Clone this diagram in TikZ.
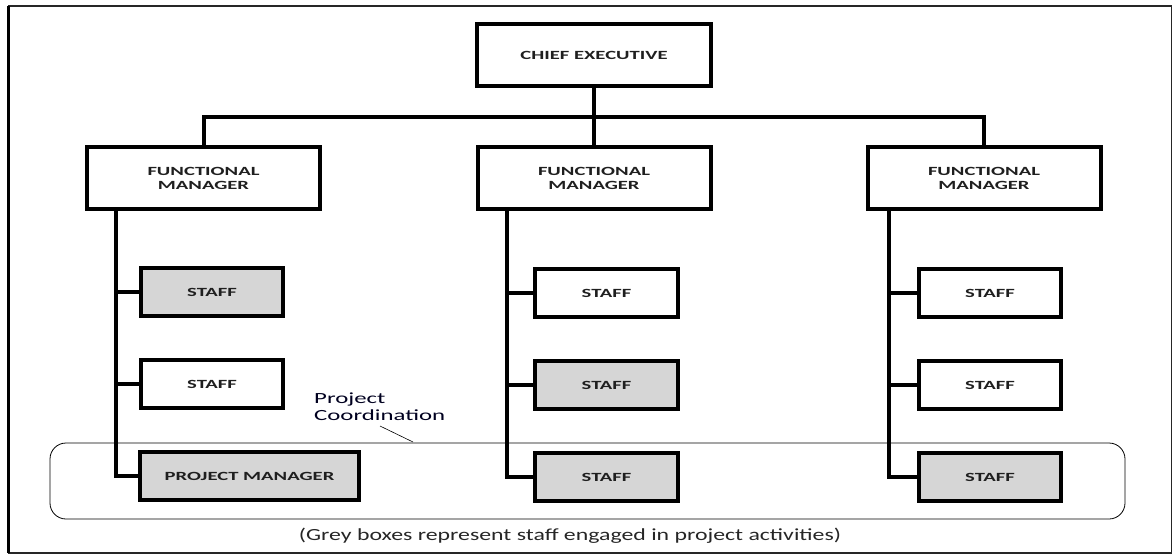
\documentclass[tikz,border=0pt]{standalone}
\usepackage{fontspec}
\setmainfont{Carlito}
\newfontfamily\labelfont[FakeStretch=1.65]{Carlito}
\newfontfamily\notefont[FakeStretch=1.6]{Carlito}
\newfontfamily\capfont[FakeStretch=1.4]{Carlito}
\begin{document}
\begin{tikzpicture}[x=1pt,y=-1pt,
  box/.style={draw=black, line width=4pt, fill=white, inner sep=0pt,
    align=center, font=\labelfont\bfseries\fontsize{12.5}{14}\selectfont, text=black!88},
  grey/.style={box, fill=black!16},
  wire/.style={line width=4pt, line cap=rect},
  frame/.style={line width=1.5pt, draw=black!85}]
\useasboundingbox (0,0) rectangle (1173,555);
% outer frame
\draw[frame] (8.5,6) rectangle (1171.5,553);
\draw[line width=3pt] (8.5,6) -- (8.5,553);
% project coordination band
\draw[line width=0.8pt, rounded corners=16pt] (50,443) rectangle (1125,519);
% top of the hierarchy
\node[box, minimum width=234pt, minimum height=62pt] (chief) at (594,55) {CHIEF EXECUTIVE};
\foreach \n/\x in {1/203.5, 2/594, 3/984}
  \node[box, minimum width=233pt, minimum height=62pt] (fm\n) at (\x,178) {FUNCTIONAL\\MANAGER};
\coordinate (bus) at (594,117);
\draw[wire] (chief.south) -- (fm2.north);
\draw[wire] (fm1.north) |- (bus) -| (fm3.north);
% left column
\node[grey, minimum width=142pt, minimum height=48pt] (s11) at (212,292) {STAFF};
\node[box,  minimum width=142pt, minimum height=48pt] (s12) at (212,384) {STAFF};
\node[grey, minimum width=219pt, minimum height=48pt] (s13) at (249.5,476) {PROJECT MANAGER};
% middle column
\node[box,  minimum width=143pt, minimum height=48pt] (s21) at (606.5,293) {STAFF};
\node[grey, minimum width=143pt, minimum height=48pt] (s22) at (606.5,385) {STAFF};
\node[grey, minimum width=143pt, minimum height=48pt] (s23) at (606.5,477) {STAFF};
% right column
\node[box,  minimum width=142pt, minimum height=48pt] (s31) at (990,293) {STAFF};
\node[box,  minimum width=142pt, minimum height=48pt] (s32) at (990,385) {STAFF};
\node[grey, minimum width=142pt, minimum height=48pt] (s33) at (990,477) {STAFF};
% spines and branches
\coordinate (sp1) at ([xshift=31pt]fm1.south west);
\coordinate (sp2) at ([xshift=31pt]fm2.south west);
\coordinate (sp3) at ([xshift=23pt]fm3.south west);
\foreach \c in {1,2,3}{
  \draw[wire] (sp\c) |- (s\c3.west);
  \draw[wire] (sp\c |- s\c1.west) -- (s\c1.west);
  \draw[wire] (sp\c |- s\c2.west) -- (s\c2.west);
}
% annotation
\node[anchor=north west, align=left, inner sep=0pt, text=black!80!blue!60!black,
  font=\notefont\fontsize{15.5}{17}\selectfont] (pc) at (314,393) {Project\\Coordination};
\coordinate (pcstart) at (380,426);
\coordinate (pcend) at (413,442);
\draw[line width=0.6pt] (pcstart) -- (pcend);
\node[font=\capfont\fontsize{17}{20}\selectfont, text=black!85, inner sep=0pt] (cap) at (570,536)
  {(Grey boxes represent staff engaged in project activities)};
\end{tikzpicture}
\end{document}
